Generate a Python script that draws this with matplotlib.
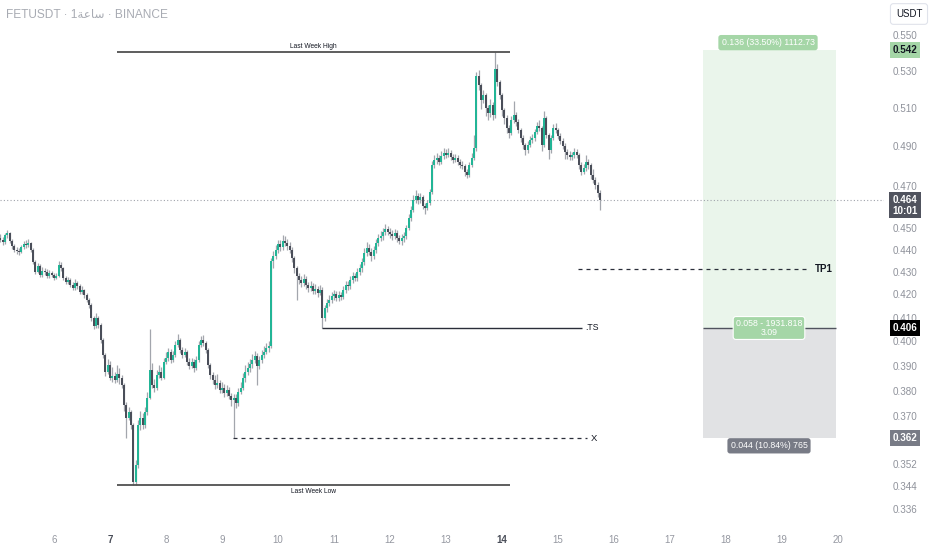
import matplotlib
matplotlib.use("Agg")
import matplotlib.pyplot as plt
from matplotlib import transforms

plt.rcParams['font.family'] = ['Liberation Sans', 'DejaVu Sans']

# ---------------- data (1h candles, first candle = day 5 01:00) ----------------
closes = [
    0.445, 0.444, 0.447, 0.448, 0.4445, 0.442, 0.4405, 0.440, 0.4395, 0.4415,
    0.443, 0.4425, 0.4435, 0.4405, 0.435, 0.4305, 0.433, 0.429, 0.431, 0.4305,
    0.4285, 0.430, 0.429, 0.4277, 0.4285, 0.4335, 0.432, 0.4277, 0.426, 0.4268,
    0.4245, 0.4232, 0.4255, 0.424, 0.4215, 0.4223, 0.420, 0.418, 0.4158, 0.4103,
    0.4068, 0.4103, 0.4073, 0.401, 0.3948, 0.388, 0.3907, 0.3855, 0.3863, 0.3847,
    0.387, 0.3855, 0.3827, 0.3748, 0.3698, 0.372, 0.3671, 0.3459, 0.352, 0.3671,
    0.3698, 0.3671, 0.372, 0.3775, 0.3887, 0.3827, 0.3815, 0.3867, 0.388, 0.3855,
    0.392, 0.3936, 0.396, 0.3928, 0.3948, 0.399, 0.401, 0.3968, 0.3948, 0.396,
    0.392, 0.3903, 0.392, 0.3895, 0.3928, 0.399, 0.401, 0.3997, 0.3968, 0.3907,
    0.3867, 0.3847, 0.3827, 0.3835, 0.3807, 0.3815, 0.3795, 0.3807, 0.3783, 0.3767,
    0.3775, 0.3755, 0.380, 0.3815, 0.3855, 0.388, 0.3895, 0.3911, 0.3928, 0.3944,
    0.3903, 0.3928, 0.3948, 0.396, 0.3976, 0.3985, 0.4353, 0.4375, 0.4403, 0.443,
    0.4417, 0.4445, 0.4435, 0.442, 0.4403, 0.4367, 0.432, 0.4285, 0.4268, 0.4255,
    0.4272, 0.4245, 0.4232, 0.424, 0.422, 0.4228, 0.421, 0.4223, 0.4103, 0.4145,
    0.4167, 0.418, 0.4197, 0.4206, 0.4188, 0.420, 0.4193, 0.4223, 0.4245, 0.424,
    0.4268, 0.4285, 0.4277, 0.4303, 0.432, 0.4348, 0.439, 0.4412, 0.4395, 0.4376,
    0.4403, 0.4435, 0.4458, 0.4467, 0.4486, 0.450, 0.4486, 0.4476, 0.4467, 0.4481,
    0.4458, 0.4445, 0.4458, 0.4467, 0.4505, 0.4552, 0.459, 0.4638, 0.4657, 0.4638,
    0.4652, 0.4609, 0.460, 0.4624, 0.4676, 0.481, 0.4835, 0.4845, 0.4825, 0.4855,
    0.487, 0.486, 0.487, 0.485, 0.4835, 0.4845, 0.4825, 0.481, 0.4805, 0.4775,
    0.476, 0.481, 0.4845, 0.4895, 0.5276, 0.5227, 0.5146, 0.5173, 0.5103, 0.5077,
    0.5119, 0.5066, 0.5314, 0.5243, 0.5173, 0.5093, 0.5051, 0.500, 0.4973, 0.504,
    0.5066, 0.503, 0.4988, 0.4946, 0.4911, 0.4885, 0.4911, 0.4936, 0.4946, 0.4978,
    0.5009, 0.500, 0.4911, 0.5051, 0.4962, 0.4885, 0.4946, 0.500, 0.4988, 0.4957,
    0.4931, 0.4906, 0.4875, 0.486, 0.485, 0.486, 0.4875, 0.486, 0.481, 0.4775,
    0.4795, 0.4825, 0.481, 0.476, 0.4735, 0.471, 0.4672, 0.4638,
]
highs = [
    0.4475, 0.4462, 0.4482, 0.4495, 0.4488, 0.4452, 0.4432, 0.4418, 0.4412, 0.4428,
    0.4445, 0.4448, 0.4452, 0.4442, 0.4412, 0.4358, 0.4345, 0.4338, 0.4325, 0.4322,
    0.4315, 0.4312, 0.4308, 0.4298, 0.4300, 0.4355, 0.4348, 0.4328, 0.4285, 0.4282,
    0.4275, 0.4258, 0.4270, 0.4265, 0.4250, 0.4240, 0.4230, 0.4210, 0.4188, 0.4165,
    0.4110, 0.4125, 0.4112, 0.4080, 0.4018, 0.3955, 0.3930, 0.3925, 0.3900, 0.3880,
    0.3905, 0.3895, 0.3868, 0.3835, 0.3760, 0.3740, 0.3730, 0.3680, 0.3540, 0.3690,
    0.3725, 0.3715, 0.3740, 0.3800, 0.4055, 0.3915, 0.3850, 0.3885, 0.3905, 0.3900,
    0.3935, 0.3960, 0.3978, 0.3972, 0.3965, 0.4005, 0.4035, 0.4020, 0.3980, 0.3975,
    0.3968, 0.3935, 0.3935, 0.3930, 0.3945, 0.4005, 0.4025, 0.4030, 0.4005, 0.3975,
    0.3915, 0.3880, 0.3865, 0.3870, 0.3848, 0.3840, 0.3830, 0.3825, 0.3820, 0.3795,
    0.3790, 0.3790, 0.3815, 0.3840, 0.3875, 0.3905, 0.3920, 0.3930, 0.3950, 0.3965,
    0.3955, 0.3945, 0.3968, 0.3985, 0.3998, 0.4005, 0.4365, 0.4400, 0.4425, 0.4450,
    0.4450, 0.4470, 0.4468, 0.4455, 0.4440, 0.4415, 0.4375, 0.4330, 0.4300, 0.4285,
    0.4295, 0.4285, 0.4260, 0.4265, 0.4255, 0.4250, 0.4240, 0.4245, 0.4235, 0.4160,
    0.4185, 0.4200, 0.4215, 0.4225, 0.4220, 0.4218, 0.4215, 0.4240, 0.4262, 0.4265,
    0.4285, 0.4305, 0.4300, 0.4320, 0.4340, 0.4365, 0.4410, 0.4440, 0.4430, 0.4410,
    0.4420, 0.4455, 0.4475, 0.4490, 0.4505, 0.4525, 0.4515, 0.4505, 0.4495, 0.4500,
    0.4495, 0.4470, 0.4475, 0.4485, 0.4520, 0.4570, 0.4610, 0.4660, 0.4685, 0.4670,
    0.4670, 0.4660, 0.4625, 0.4640, 0.4690, 0.4830, 0.4860, 0.4870, 0.4860, 0.4880,
    0.4895, 0.4890, 0.4895, 0.4885, 0.4865, 0.4865, 0.4860, 0.4840, 0.4830, 0.4815,
    0.4790, 0.4825, 0.4870, 0.4960, 0.5300, 0.5310, 0.5240, 0.5200, 0.5185, 0.5120,
    0.5150, 0.5135, 0.5410, 0.5340, 0.5255, 0.5185, 0.5105, 0.5065, 0.5015, 0.5060,
    0.5140, 0.5080, 0.5045, 0.5000, 0.4960, 0.4920, 0.4930, 0.4955, 0.4965, 0.4995,
    0.5030, 0.5040, 0.5010, 0.5085, 0.5060, 0.4975, 0.4960, 0.5020, 0.5025, 0.5000,
    0.4970, 0.4945, 0.4920, 0.4890, 0.4880, 0.4875, 0.4895, 0.4890, 0.4870, 0.4825,
    0.4815, 0.4860, 0.4840, 0.4820, 0.4790, 0.4750, 0.4725, 0.4685,
]
lows = [
    0.4440, 0.4428, 0.4432, 0.4460, 0.4435, 0.4408, 0.4392, 0.4385, 0.4380, 0.4388,
    0.4408, 0.4412, 0.4415, 0.4395, 0.4340, 0.4295, 0.4298, 0.4280, 0.4282, 0.4290,
    0.4275, 0.4278, 0.4280, 0.4268, 0.4270, 0.4280, 0.4310, 0.4268, 0.4250, 0.4252,
    0.4235, 0.4222, 0.4225, 0.4230, 0.4205, 0.4208, 0.4190, 0.4170, 0.4145, 0.4090,
    0.4055, 0.4060, 0.4060, 0.3998, 0.3935, 0.3862, 0.3870, 0.3845, 0.3840, 0.3835,
    0.3840, 0.3830, 0.3815, 0.3725, 0.3620, 0.3690, 0.3655, 0.3447, 0.3450, 0.3510,
    0.3650, 0.3655, 0.3660, 0.3710, 0.3770, 0.3815, 0.3800, 0.3808, 0.3855, 0.3845,
    0.3850, 0.3910, 0.3925, 0.3915, 0.3920, 0.3940, 0.3980, 0.3955, 0.3935, 0.3938,
    0.3905, 0.3890, 0.3895, 0.3880, 0.3885, 0.3920, 0.3980, 0.3985, 0.3955, 0.3895,
    0.3850, 0.3830, 0.3812, 0.3815, 0.3795, 0.3795, 0.3780, 0.3782, 0.3770, 0.3745,
    0.3620, 0.3735, 0.3745, 0.3790, 0.3805, 0.3840, 0.3865, 0.3880, 0.3895, 0.3915,
    0.3827, 0.3890, 0.3915, 0.3935, 0.3950, 0.3960, 0.3975, 0.4320, 0.4360, 0.4390,
    0.4400, 0.4405, 0.4420, 0.4405, 0.4390, 0.4350, 0.4300, 0.4180, 0.4250, 0.4238,
    0.4240, 0.4230, 0.4215, 0.4220, 0.4205, 0.4208, 0.4195, 0.4200, 0.4060, 0.4090,
    0.4130, 0.4155, 0.4165, 0.4180, 0.4175, 0.4175, 0.4178, 0.4185, 0.4210, 0.4225,
    0.4230, 0.4255, 0.4262, 0.4265, 0.4290, 0.4305, 0.4335, 0.4375, 0.4380, 0.4355,
    0.4360, 0.4390, 0.4420, 0.4445, 0.4450, 0.4470, 0.4470, 0.4460, 0.4450, 0.4455,
    0.4440, 0.4430, 0.4425, 0.4440, 0.4455, 0.4495, 0.4540, 0.4580, 0.4625, 0.4620,
    0.4625, 0.4595, 0.4570, 0.4590, 0.4615, 0.4665, 0.4795, 0.4815, 0.4810, 0.4815,
    0.4840, 0.4845, 0.4850, 0.4835, 0.4820, 0.4825, 0.4810, 0.4795, 0.4790, 0.4755,
    0.4745, 0.4750, 0.4800, 0.4835, 0.4880, 0.5200, 0.5100, 0.5130, 0.5060, 0.5040,
    0.5055, 0.5040, 0.5050, 0.5220, 0.5150, 0.5060, 0.5020, 0.4970, 0.4945, 0.4960,
    0.5025, 0.5010, 0.4970, 0.4925, 0.4890, 0.4860, 0.4870, 0.4900, 0.4920, 0.4930,
    0.4965, 0.4985, 0.4880, 0.4900, 0.4945, 0.4840, 0.4870, 0.4935, 0.4970, 0.4940,
    0.4915, 0.4890, 0.4840, 0.4840, 0.4835, 0.4835, 0.4845, 0.4845, 0.4790, 0.4760,
    0.4765, 0.4780, 0.4790, 0.4740, 0.4720, 0.4690, 0.4650, 0.4590,
]
first_open = 0.446
opens = [first_open] + closes[:-1]   # each candle opens at the previous close

last_week_high = 0.541
last_week_low = 0.3447
ts_level = 0.406
tp1_level = 0.4317
x_level = 0.362
pos_entry, pos_target, pos_stop = 0.406, 0.542, 0.362
current_price = 0.464
countdown = "10:01"

price_ticks = [0.550, 0.530, 0.510, 0.490, 0.470, 0.450, 0.440, 0.430, 0.420,
               0.410, 0.400, 0.390, 0.380, 0.370, 0.352, 0.344, 0.336]
day_labels = ['6', '7', '8', '9', '10', '11', '12', '13', '14', '15', '16',
              '17', '18', '19', '20']
week_start_days = ['7', '14']

title_text = "FETUSDT \u00b7 1\uFE94\uFECB\uFE8E\uFEB3 \u00b7 BINANCE"
top_label = "0.136 (33.50%) 1112.73"
mid_label = "0.058 - 1931.818\n3.09"
bot_label = "0.044 (10.84%) 765"

# ---------------- figure ----------------
W, H = 932, 550
fig = plt.figure(figsize=(W / 100, H / 100), dpi=100)
fig.patch.set_facecolor('white')
ax = fig.add_axes([0, 1 - 525 / H, 884 / W, 525 / H])
ax.set_facecolor('white')
ax.set_yscale('log')
for s in ax.spines.values():
    s.set_visible(False)
ax.set_xticks([])
ax.set_yticks([])
ax.minorticks_off()
ax.tick_params(which='both', left=False, bottom=False, labelleft=False, labelbottom=False)

ppx = 2.3333  # pixels per candle


def kx(px):
    return (px - 0.33) / ppx


ax.set_xlim(kx(0), kx(884))
ax.set_ylim(0.3308, 0.5710)

UP = '#22b596'
DOWN = '#4a4e59'
WICK = '#a3a6ad'

n = len(closes)
xs = list(range(n))
ax.vlines(xs, lows, highs, color=WICK, lw=0.9, zorder=3)
bottoms = [min(o, c) for o, c in zip(opens, closes)]
heights = [max(abs(c - o), 0.0005) for o, c in zip(opens, closes)]
colors = [UP if c >= o else DOWN for o, c in zip(opens, closes)]
ax.bar(xs, heights, bottom=bottoms, width=0.86, color=colors, linewidth=0, zorder=4)

# current price dotted line
ax.axhline(current_price, color='#a0a3ab', lw=0.8, ls=(0, (1, 2)), zorder=2)

# Last week high / low
a, b = kx(117), kx(510)
ax.hlines(last_week_high, a, b, color='#505050', lw=1.3, zorder=5)
ax.hlines(last_week_low, a, b, color='#505050', lw=1.3, zorder=5)
ax.annotate("Last Week High", ((a + b) / 2, last_week_high), xytext=(0, 1.2),
            textcoords='offset points', ha='center', va='bottom', fontsize=4.8, color='#131722')
ax.annotate("Last Week Low", ((a + b) / 2, last_week_low), xytext=(0, -2),
            textcoords='offset points', ha='center', va='top', fontsize=4.8, color='#131722')

# TS line
ax.hlines(ts_level, kx(322), kx(582), color='#2a2e39', lw=1.0, zorder=5)
ax.text(kx(585), ts_level, ".TS", ha='left', va='center', fontsize=6.3, color='#131722')

# TP1 dashed
ax.hlines(tp1_level, kx(578), kx(810), color='#2a2e39', lw=0.9, linestyles=(0, (3.2, 3.2)), zorder=5)
ax.text(kx(815), tp1_level, "TP1", ha='left', va='center', fontsize=7, color='#131722', weight='bold')

# X dashed
ax.hlines(x_level, kx(233), kx(587), color='#2a2e39', lw=0.9, linestyles=(0, (3.2, 3.2)), zorder=5)
ax.text(kx(591), x_level, "X", ha='left', va='center', fontsize=6.8, color='#131722')

# Long position tool
p1, p2 = kx(703), kx(836)
ax.fill_between([p1, p2], pos_entry, pos_target, color='#eaf5eb', lw=0, zorder=1)
ax.fill_between([p1, p2], pos_stop, pos_entry, color='#e1e2e4', lw=0, zorder=1)
ax.hlines(pos_entry, p1, p2, color='#50535e', lw=1.0, zorder=2)
pc = kx(769)
ax.annotate(top_label, (kx(768), pos_target), xytext=(0, 5.4), textcoords='offset points',
            ha='center', va='center', fontsize=6.3, color='white', zorder=7,
            bbox=dict(boxstyle='round,pad=0.36,rounding_size=0.3', fc='#a5d6a7', ec='none'))
ax.annotate(mid_label, (pc, pos_entry), xytext=(0, 0), textcoords='offset points',
            ha='center', va='center', fontsize=6.3, color='white', zorder=7, linespacing=0.95,
            bbox=dict(boxstyle='round,pad=0.3,rounding_size=0.3', fc='#a5d6a7', ec='white', lw=0.8))
ax.annotate(bot_label, (pc, pos_stop), xytext=(0, -5.4), textcoords='offset points',
            ha='center', va='center', fontsize=6.3, color='white', zorder=7,
            bbox=dict(boxstyle='round,pad=0.36,rounding_size=0.3', fc='#787b86', ec='none'))

# ---------------- price scale ----------------
ty = transforms.blended_transform_factory(fig.transFigure, ax.transData)
lx = 905 / W
for p in price_ticks:
    ax.text(lx, p, f"{p:.3f}", transform=ty, ha='center', va='center', fontsize=7.1,
            color='#8f929b', clip_on=False, zorder=1)


def price_box(y, txt, fc, tc, dy=0.0):
    ax.annotate(txt, (lx, y), xycoords=ty, xytext=(0, dy), textcoords='offset points',
                ha='center', va='center', fontsize=7.1, color=tc,
                annotation_clip=False, zorder=10, linespacing=1.1, weight='bold',
                bbox=dict(boxstyle='square,pad=0.3', fc=fc, ec='none'))


price_box(pos_target, f"{pos_target:.3f}", '#a5d6a7', '#131722')
price_box(current_price, f"{current_price:.3f}\n{countdown}", '#50535e', 'white', dy=-4.0)
price_box(ts_level, f"{ts_level:.3f}", '#000000', 'white')
price_box(pos_stop, f"{pos_stop:.3f}", '#787b86', 'white')

fig.text(909 / W, 1 - 14 / H, "USDT", ha='center', va='center', fontsize=7, color='#131722',
         bbox=dict(boxstyle='round,pad=0.55,rounding_size=0.3', fc='white', ec='#e0e3eb', lw=0.8))

# ---------------- time scale ----------------
tx = transforms.blended_transform_factory(ax.transData, fig.transFigure)
for i, lab in enumerate(day_labels):
    k = 23 + 24 * i
    strong = lab in week_start_days
    ax.text(k, 1 - 540 / H, lab, transform=tx, ha='center', va='center', fontsize=7,
            color='#4a4e59' if strong else '#9598a1', weight='bold' if strong else 'normal',
            clip_on=False)

# title
fig.text(6 / W, 1 - 15 / H, title_text, ha='left', va='center', fontsize=8.6, color='#a8abb3')

fig.savefig('out.png', dpi=100, facecolor='white')
